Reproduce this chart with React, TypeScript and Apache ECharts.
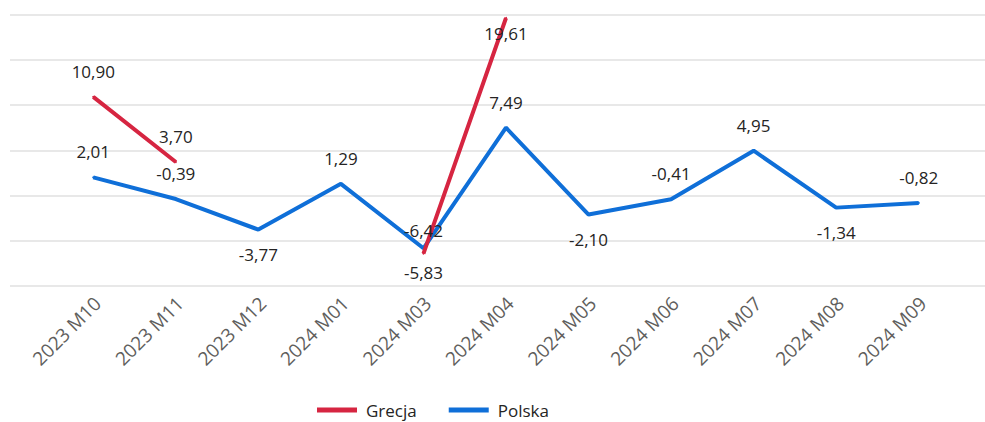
import React, { useEffect, useRef } from "react";
import * as echarts from "echarts";

const categories = [
  "2023 M10", "2023 M11", "2023 M12", "2024 M01", "2024 M03", "2024 M04",
  "2024 M05", "2024 M06", "2024 M07", "2024 M08", "2024 M09",
];
const grecja: (number | null)[] = [10.9, 3.7, null, null, -6.42, 19.61, null, null, null, null, null];
const polska: number[] = [2.01, -0.39, -3.77, 1.29, -5.83, 7.49, -2.1, -0.41, 4.95, -1.34, -0.82];

const yMin = -10;
const yMax = 20;
const yStep = 5;

const polskaLabelPos = ["top", "top", "bottom", "top", "bottom", "top", "bottom", "top", "top", "bottom", "top"];
const grecjaLabelPos = ["top", "top", "top", "top", "top", "bottom", "top", "top", "top", "top", "top"];

const RED = "#D62541";
const BLUE = "#0F6FD8";
const FONT = "'Open Sans', sans-serif";

const fmt = (v: number) => v.toFixed(2).replace(".", ",");

export default function App() {
  const ref = useRef<HTMLDivElement>(null);
  useEffect(() => {
    if (!ref.current) return;
    const chart = echarts.init(ref.current, undefined, { renderer: "svg" });
    const labelBase = {
      show: true,
      color: "#252423",
      fontSize: 17,
      fontFamily: FONT,
      formatter: (p: any) => fmt(p.value),
    };
    const mk = (vals: (number | null)[], pos: string[], dists: number[]) =>
      vals.map((v, i) =>
        v === null
          ? null
          : { value: v, label: { show: true, position: pos[i], distance: dists[i] } }
      );
    const polskaDist = polskaLabelPos.map((p) => (p === "top" ? 16 : 15));
    const grecjaDist = grecja.map((v, i) => (i === 4 ? 14 : i === 5 ? 6 : 16));
    chart.setOption({
      animation: false,
      grid: [
        { left: 10, right: 0, top: 14.5, bottom: 136 },
        { left: 52, right: 25, top: 14.5, bottom: 136 },
      ],
      xAxis: [
        { type: "value", gridIndex: 0, show: false, min: 0, max: 1 },
        {
          type: "category",
          gridIndex: 1,
          data: categories,
          boundaryGap: true,
          axisLine: { show: false },
          axisTick: { show: false },
          axisLabel: {
            rotate: 45,
            color: "#605E5C",
            fontSize: 19,
            fontFamily: FONT,
            margin: 10,
            verticalAlign: "top",
            lineHeight: 12,
          },
        },
      ],
      yAxis: [
        {
          type: "value",
          gridIndex: 0,
          min: yMin,
          max: yMax,
          interval: yStep,
          axisLabel: { show: false },
          axisLine: { show: false },
          axisTick: { show: false },
          splitLine: { show: true, lineStyle: { color: "#E1E1E1", width: 1.5 } },
        },
        {
          type: "value",
          gridIndex: 1,
          min: yMin,
          max: yMax,
          interval: yStep,
          show: false,
          splitLine: { show: false },
        },
      ],
      legend: {
        data: ["Grecja", "Polska"],
        left: 317,
        top: 401.5,
        padding: 0,
        icon: "rect",
        itemWidth: 40,
        itemHeight: 5,
        itemGap: 32,
        textStyle: {
          color: "#252423",
          fontSize: 17,
          fontFamily: FONT,
          lineHeight: 17,
          padding: [0, 0, 0, 4],
        },
      },
      series: [
        {
          name: "Polska",
          type: "line",
          xAxisIndex: 1,
          yAxisIndex: 1,
          data: mk(polska, polskaLabelPos, polskaDist),
          symbol: "circle",
          symbolSize: 2,
          showSymbol: true,
          lineStyle: { color: BLUE, width: 4 },
          itemStyle: { color: BLUE },
          label: labelBase,
          z: 1,
        },
        {
          name: "Grecja",
          type: "line",
          xAxisIndex: 1,
          yAxisIndex: 1,
          zlevel: 1,
          data: mk(grecja, grecjaLabelPos, grecjaDist),
          symbol: "circle",
          symbolSize: 2,
          showSymbol: true,
          connectNulls: false,
          lineStyle: { color: RED, width: 4 },
          itemStyle: { color: RED },
          label: labelBase,
          z: 4,
        },
      ],
    });
    return () => chart.dispose();
  }, []);
  return (
    <div
      ref={ref}
      style={{ position: "absolute", left: 0, top: 0, width: 985, height: 422, background: "#fff" }}
    />
  );
}
